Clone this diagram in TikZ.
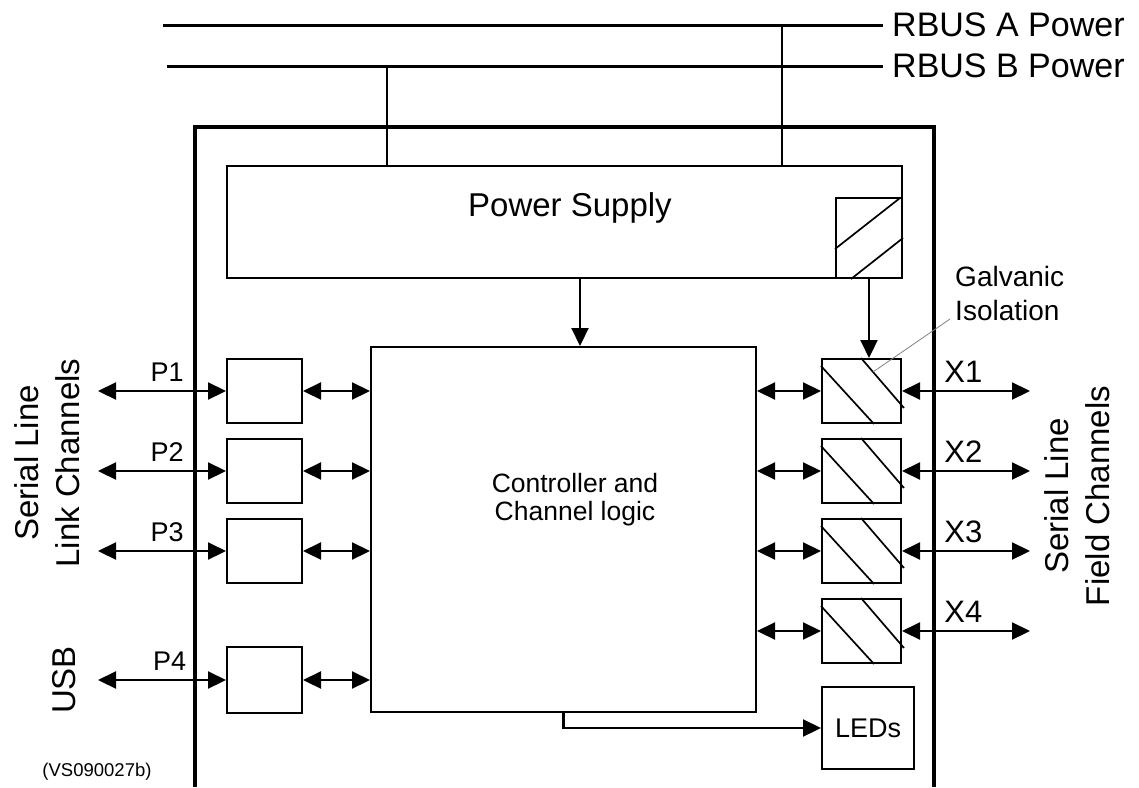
\documentclass[tikz,border=0pt]{standalone}
\usepackage{fontspec}
\setmainfont{Liberation Sans}
\usetikzlibrary{arrows.meta, positioning, calc}

% two cross strokes of an isolation block
\newcommand{\isohatch}[1]{%
  \draw[hatch] ($(#1.north west)+(0,8)$) -- ($(#1.south west)+(53,0)$);
  \draw[hatch] ($(#1.north west)+(40,0)$) -- ($(#1.north east)+(2,50)$);}

\begin{document}
\begin{tikzpicture}[x=1pt, y=-1pt,
    box/.style={draw, line width=2pt, inner sep=0pt, minimum width=75pt, minimum height=64pt},
    iso/.style={box, minimum width=79pt},
    hatch/.style={line width=1.7pt},
    bus/.style={line width=3pt},
    frame/.style={line width=3.5pt},
    flow/.style={-{Triangle[length=18pt, width=17pt]}, line width=2.2pt},
    bidir/.style={{Triangle[length=18pt, width=17pt]}-{Triangle[length=18pt, width=17pt]}, line width=2.2pt},
    leader/.style={line width=0.8pt, black!50},
    big/.style={font=\fontsize{33}{41}\selectfont},
    mid/.style={font=\fontsize{27}{31}\selectfont},
    port/.style={inner sep=0pt, font=\fontsize{27}{30}\selectfont},
    xport/.style={inner sep=0pt, font=\fontsize{31}{34}\selectfont}]

  \useasboundingbox (0,0) rectangle (1139,787);

  % supply rails
  \coordinate (railA) at (163,25);
  \coordinate (railB) at (167,66);
  \node[big, font=\fontsize{34}{40}\selectfont, anchor=west, inner xsep=9pt, inner ysep=0pt] (rbusA) at (883,25) {RBUS A Power};
  \node[big, font=\fontsize{34}{40}\selectfont, anchor=west, inner xsep=9pt, inner ysep=0pt] (rbusB) at (883,66) {RBUS B Power};
  \draw[bus] (railA) -- (rbusA.west);
  \draw[bus] (railB) -- (rbusB.west);

  % housing
  \draw[frame] (195,787) |- (934,127) -- (934,787);

  % power supply
  \node[draw, line width=2pt, inner sep=0pt, minimum width=675pt, minimum height=112pt] (ps) at (564.5,222) {};
  \node[big] (psname) at (570,208) {Power Supply};
  \node[draw, line width=2pt, inner sep=0pt, minimum width=66pt, minimum height=80pt] (pshatch) at (869,238) {};
  \draw[hatch] ($(pshatch.north west)+(0,52)$) -- ($(pshatch.north east)+(-3,1)$);
  \draw[hatch] ($(pshatch.south west)+(16,0)$) -- ($(pshatch.north east)+(0,41)$);
  \coordinate (tapA) at (782,25);
  \coordinate (tapB) at (387,66);
  \draw[bus, line width=2.5pt] (tapA) -- (tapA |- ps.north);
  \draw[bus, line width=2.5pt] (tapB) -- (tapB |- ps.north);

  % controller
  \node[draw, line width=2pt, inner sep=0pt, minimum width=385pt, minimum height=365pt] (ctl) at (563.5,529.5) {};
  \node[mid, font=\fontsize{26.5}{28}\selectfont, align=center] (ctlname) at (575,500) {Controller and\\Channel logic};
  \coordinate (ctlin) at ($(ctl.north)+(16.5,0)$);
  \draw[flow] (ctlin |- ps.south) -- (ctlin);

  % link side
  \node[box] (p1box) at (264.5,391) {};
  \node[box] (p2box) at (264.5,471) {};
  \node[box] (p3box) at (264.5,551) {};
  \node[box, minimum height=66pt] (p4box) at (264.5,680) {};
  \coordinate (p1end) at (98,391);
  \coordinate (p2end) at (98,471);
  \coordinate (p3end) at (98,551);
  \coordinate (p4end) at (98,680);
  \draw[bidir] (p1end) -- (p1box.west) node[port, pos=0.54, above=8pt] {P1};
  \draw[bidir] (p2end) -- (p2box.west) node[port, pos=0.54, above=8pt] {P2};
  \draw[bidir] (p3end) -- (p3box.west) node[port, pos=0.54, above=8pt] {P3};
  \draw[bidir] (p4end) -- (p4box.west) node[port, pos=0.56, above=8pt] {P4};
  \draw[bidir] (p1box.east) -- (p1box.east -| ctl.west);
  \draw[bidir] (p2box.east) -- (p2box.east -| ctl.west);
  \draw[bidir] (p3box.east) -- (p3box.east -| ctl.west);
  \draw[bidir] (p4box.east) -- (p4box.east -| ctl.west);

  % field side
  \node[iso] (x1box) at (861.5,391) {};
  \node[iso] (x2box) at (861.5,471) {};
  \node[iso] (x3box) at (861.5,551) {};
  \node[iso] (x4box) at (861.5,631) {};
  \isohatch{x1box}
  \isohatch{x2box}
  \isohatch{x3box}
  \isohatch{x4box}
  \draw[flow] (pshatch.south) -- (pshatch.south |- x1box.north);
  \coordinate (x1end) at (1030,391);
  \coordinate (x2end) at (1030,471);
  \coordinate (x3end) at (1030,551);
  \coordinate (x4end) at (1030,631);
  \draw[bidir] (x1box.east) -- (x1end) node[xport, pos=0.48, above=7pt] {X1};
  \draw[bidir] (x2box.east) -- (x2end) node[xport, pos=0.48, above=7pt] {X2};
  \draw[bidir] (x3box.east) -- (x3end) node[xport, pos=0.48, above=7pt] {X3};
  \draw[bidir] (x4box.east) -- (x4end) node[xport, pos=0.48, above=7pt] {X4};
  \draw[bidir] (x1box.west -| ctl.east) -- (x1box.west);
  \draw[bidir] (x2box.west -| ctl.east) -- (x2box.west);
  \draw[bidir] (x3box.west -| ctl.east) -- (x3box.west);
  \draw[bidir] (x4box.west -| ctl.east) -- (x4box.west);

  % isolation note
  \node[anchor=west, align=left, inner sep=0pt, font=\fontsize{28}{34}\selectfont] (galv) at (955,293) {Galvanic\\Isolation};
  \coordinate (isotap) at (873,372);
  \coordinate (galvtap) at (950,319);
  \draw[leader] (isotap) -- (galvtap);

  % status
  \node[draw, line width=2pt, inner sep=0pt, minimum width=92pt, minimum height=82pt, mid] (leds) at (868,728) {LEDs};
  \draw[flow] (ctl.south) |- (leds.west);

  % side captions
  \node[big, rotate=90, align=center] (linkcap) at (47,463) {Serial Line\\Link Channels};
  \node[big, rotate=90] (usbcap) at (64,680) {USB};
  \node[big, rotate=90, align=center] (fieldcap) at (1077,496) {Serial Line\\Field Channels};
  \node[font=\fontsize{18.5}{20}\selectfont] (figid) at (97,772) {(VS090027b)};
\end{tikzpicture}
\end{document}
